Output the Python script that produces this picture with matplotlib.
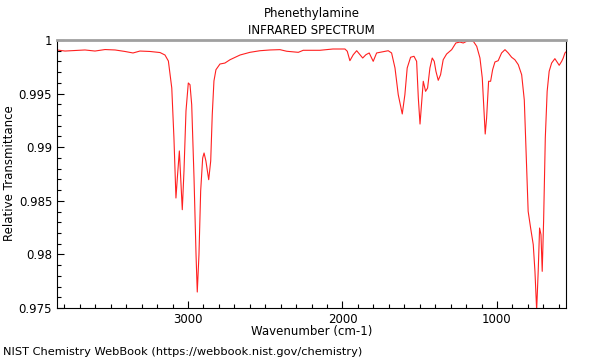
import matplotlib
matplotlib.use("Agg")
import matplotlib.pyplot as plt
from matplotlib.ticker import MultipleLocator, FuncFormatter

wavenumber = [3848, 3796, 3731, 3667, 3602, 3537, 3472, 3408, 3356, 3311, 3246, 3181, 3149,
              3127, 3105, 3091, 3078, 3069, 3056, 3047, 3037, 3026, 3013, 2998, 2987, 2976,
              2961, 2948, 2940, 2929, 2918, 2905, 2896, 2884, 2866, 2853, 2843, 2832, 2819,
              2793, 2761, 2728, 2663, 2599, 2534, 2469, 2405, 2361, 2286, 2254, 2146, 2062,
              1984, 1969, 1952, 1930, 1908, 1887, 1869, 1848, 1827, 1801, 1779, 1746, 1704,
              1682, 1660, 1639, 1613, 1596, 1581, 1559, 1537, 1520, 1509, 1498, 1487, 1477,
              1462, 1449, 1434, 1419, 1406, 1395, 1380, 1365, 1348, 1326, 1293, 1266, 1240,
              1218, 1196, 1175, 1153, 1131, 1110, 1095, 1084, 1076, 1067, 1054, 1041, 1028,
              1013, 992, 970, 948, 927, 905, 884, 862, 840, 823, 812, 798, 782, 765, 754,
              743, 733, 724, 715, 707, 698, 687, 675, 662, 646, 625, 614, 597, 581, 571,
              560, 554]
transmittance = [0.99907, 0.99897, 0.99902, 0.99907, 0.99897, 0.99911, 0.99907, 0.99893, 0.99879,
                 0.99897, 0.99893, 0.99883, 0.99860,
                 0.99804, 0.99552, 0.99086, 0.98526, 0.98713, 0.98965, 0.98713, 0.98417, 0.98778,
                 0.99338, 0.99599, 0.99583, 0.99396,
                 0.98713, 0.97997, 0.97649, 0.97997, 0.98591, 0.98899, 0.98946, 0.98871, 0.98697,
                 0.98871, 0.99303, 0.99618, 0.99723,
                 0.99776, 0.99785, 0.99816, 0.99860, 0.99885, 0.99900, 0.99907, 0.99910, 0.99895,
                 0.99885, 0.99904, 0.99904, 0.99916,
                 0.99916, 0.99895, 0.99807, 0.99863, 0.99900, 0.99863, 0.99832, 0.99863, 0.99879,
                 0.99801, 0.99879, 0.99888, 0.99900,
                 0.99879, 0.99739, 0.99490, 0.99310, 0.99490, 0.99739, 0.99839, 0.99848, 0.99801,
                 0.99459, 0.99216, 0.99428, 0.99615,
                 0.99521, 0.99552, 0.99739, 0.99832, 0.99801, 0.99708, 0.99624, 0.99676, 0.99816,
                 0.99869, 0.99910, 0.99972, 0.99981,
                 0.99972, 0.99988, 0.99993, 0.99988, 0.99941, 0.99832, 0.99646, 0.99335, 0.99123,
                 0.99272, 0.99615, 0.99615, 0.99723,
                 0.99795, 0.99807, 0.99879, 0.99910, 0.99879, 0.99839, 0.99816, 0.99770, 0.99676,
                 0.99440, 0.98974, 0.98402, 0.98246, 0.98091, 0.97842,
                 0.97480, 0.97842, 0.98246, 0.98184, 0.97842, 0.98309, 0.99086, 0.99521, 0.99708,
                 0.99785, 0.99826, 0.99801, 0.99764, 0.99801, 0.99832,
                 0.99879, 0.99888]

title_lines = ["Phenethylamine", "INFRARED SPECTRUM"]
x_label = "Wavenumber (cm-1)"
y_label = "Relative Transmittance"
footer = "NIST Chemistry WebBook (https://webbook.nist.gov/chemistry)"

fs = 8.5
fig = plt.figure(figsize=(6, 3.6), dpi=100)
ax = fig.add_axes([57/600, 1-308/360, (566-57)/600, (308-40)/360])
ax.plot(wavenumber, transmittance, color="#ff2020", lw=0.8)
ax.set_xlim(3848, 553)
ax.set_ylim(0.975, 1.0)

ax.xaxis.set_major_locator(MultipleLocator(1000))
ax.xaxis.set_minor_locator(MultipleLocator(100))
ax.yaxis.set_major_locator(MultipleLocator(0.005))
ax.yaxis.set_minor_locator(MultipleLocator(0.001))
ax.yaxis.set_major_formatter(FuncFormatter(lambda v, p: "%g" % round(v, 4)))
ax.xaxis.set_major_formatter(FuncFormatter(lambda v, p: "%d" % v))
ax.tick_params(which="both", direction="in", top=False, right=False, labelsize=fs, colors="black")
ax.tick_params(which="major", length=5, width=0.8)
ax.tick_params(which="minor", length=3, width=0.8)

for s in ["left", "bottom", "right"]:
    ax.spines[s].set_color("black")
    ax.spines[s].set_linewidth(0.8)
ax.spines["top"].set_color("#a0a0a0")
ax.spines["top"].set_linewidth(2)

fig.text(311.5/600, 1-332/360, x_label, ha="center", va="center", fontsize=fs)
fig.text(10/600, 1-173/360, y_label, ha="center", va="center", rotation=90, fontsize=fs)
fig.text(311.5/600, 1-13/360, title_lines[0], ha="center", va="center", fontsize=fs)
fig.text(311.5/600, 1-30/360, title_lines[1], ha="center", va="center", fontsize=fs)
fig.text(3/600, 1-352/360, footer, ha="left", va="center", fontsize=8.2)

fig.savefig("out.png", dpi=100)
